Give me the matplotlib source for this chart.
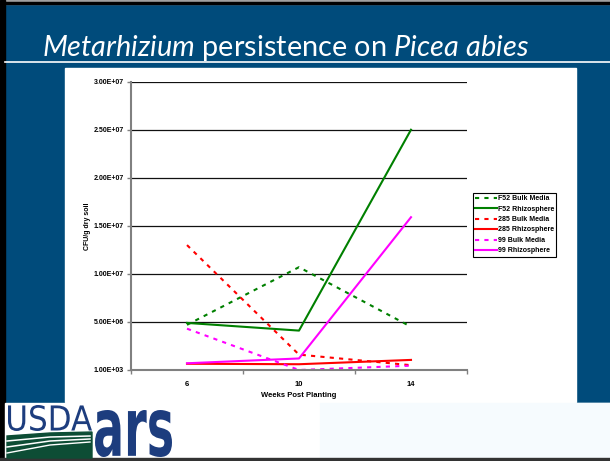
import matplotlib.pyplot as plt
from matplotlib.patches import Rectangle, Polygon, PathPatch
from matplotlib.textpath import TextPath
from matplotlib.font_manager import FontProperties
from matplotlib.transforms import Affine2D

weeks = ['6', '10', '14']
f52_bulk = [4.7e6, 1.07e7, 4.5e6]
f52_rhizo = [4.9e6, 4.1e6, 2.5e7]
s285_bulk = [1.3e7, 1.6e6, 5.0e5]
s285_rhizo = [6.5e5, 6.0e5, 1.05e6]
s99_bulk = [4.3e6, 1.0e3, 4.5e5]
s99_rhizo = [7.0e5, 1.2e6, 1.59e7]
ytick_vals = [0, 5e6, 1e7, 1.5e7, 2e7, 2.5e7, 3e7]
ytick_labels = ['1.00E+03', '5.00E+06', '1.00E+07', '1.50E+07', '2.00E+07', '2.50E+07', '3.00E+07']

blue = '#004b7b'
navy = '#1d3d7e'
plt.rcParams['mathtext.fontset'] = 'custom'
plt.rcParams['mathtext.it'] = 'Lato:italic'
plt.rcParams['mathtext.rm'] = 'Lato'

fig = plt.figure(figsize=(6.1, 4.61), dpi=100)
fig.patch.set_facecolor(blue)

# slide background in pixel coords
bg = fig.add_axes([0, 0, 1, 1])
bg.set_xlim(0, 610)
bg.set_ylim(461, 0)
bg.axis('off')
bg.add_patch(Rectangle((0, 0), 610, 4, color='#a0a0a0'))
bg.add_patch(Rectangle((0, 2), 610, 2.5, color='black'))
bg.add_patch(Rectangle((0, 0), 5, 461, color='black'))
bg.plot([5, 610], [62, 62], color='white', lw=1.2)
bg.add_patch(Rectangle((65, 68), 511, 334, color='white'))
bg.add_patch(Rectangle((5, 403), 605, 55, color='white'))
bg.add_patch(Rectangle((320, 403), 290, 55, color='#f6fbfe'))
bg.add_patch(Rectangle((0, 458), 610, 3, color='#333333'))


def logo_text(s, x0, x1, y0, y1, prop, color):
    # fit a text path into a pixel box
    tp = TextPath((0, 0), s, size=10, prop=prop)
    ext = tp.get_extents()
    sx = (x1 - x0) / ext.width
    sy = (y1 - y0) / ext.height
    tr = Affine2D().translate(-ext.x0, -ext.y0).scale(sx, -sy).translate(x0, y1)
    bg.add_patch(PathPatch(tr.transform_path(tp), color=color, lw=0))


logo_text('USDA', 8, 92, 405, 431, FontProperties(family='Liberation Sans Narrow'), navy)
logo_text('ars', 95, 172, 410, 457, FontProperties(family='DejaVu Sans', weight='bold'), navy)
bg.add_patch(Polygon([[7, 458], [7, 436], [50, 433], [92, 432], [92, 458]], color='#0d4d35'))
bg.plot([7, 50, 90], [441, 437, 436], color='white', lw=1.1)
bg.plot([7, 50, 90], [447, 441, 439], color='white', lw=1.1)
bg.plot([7, 50, 90], [453, 445, 442], color='white', lw=1.0)

fig.text(42 / 610, 1 - 56 / 461,
         r'$\it{Metarhizium}$ persistence on $\it{Picea}$ $\it{abies}$',
         color='white', fontsize=20.8, family='Lato', ha='left', va='baseline')

ax = fig.add_axes([131 / 610, 1 - 370 / 461, 336 / 610, 288.3 / 461])
ax.set_facecolor('white')
x = range(len(weeks))
dash = (0, (2, 2.5))
ax.plot(x, f52_bulk, color='#008000', lw=1.5, linestyle=dash, label='F52 Bulk Media')
ax.plot(x, f52_rhizo, color='#008000', lw=1.5, label='F52 Rhizosphere')
ax.plot(x, s285_bulk, color='#ff0000', lw=1.5, linestyle=dash, label='285 Bulk Media')
ax.plot(x, s285_rhizo, color='#ff0000', lw=1.5, label='285 Rhizosphere')
ax.plot(x, s99_bulk, color='#ff00ff', lw=1.5, linestyle=dash, label='99 Bulk Media')
ax.plot(x, s99_rhizo, color='#ff00ff', lw=1.5, label='99 Rhizosphere')

ax.set_xlim(-0.5, 2.5)
ax.set_ylim(0, 3e7)
ax.set_yticks(ytick_vals)
ax.set_yticklabels(ytick_labels, fontsize=5, fontweight='bold', family='Liberation Sans')
ax.set_xticks(list(x))
ax.set_xticklabels(weeks, fontsize=5.5, fontweight='bold', family='Liberation Sans')
ax.set_xticks([-0.5, 0.5, 1.5, 2.5], minor=True)
ax.tick_params(axis='x', which='major', length=0, pad=8)
ax.tick_params(axis='x', which='minor', length=3, color='#808080', width=1)
ax.tick_params(axis='y', length=3, color='#808080', width=1, pad=2)
ax.grid(axis='y', color='#111111', lw=0.9)
ax.set_axisbelow(True)
for s in ['top', 'right']:
    ax.spines[s].set_visible(False)
for s in ['left', 'bottom']:
    ax.spines[s].set_color('#808080')
    ax.spines[s].set_linewidth(1.5)
ax.set_ylabel('CFU/g dry soil', fontsize=5, fontweight='bold', family='Liberation Sans', labelpad=2)
ax.set_xlabel('Weeks Post Planting', fontsize=5.5, fontweight='bold', family='Liberation Sans', labelpad=3)

leg = ax.legend(loc='upper left', bbox_to_anchor=(473 / 610, 1 - 193 / 461),
                bbox_transform=fig.transFigure, fancybox=False, framealpha=1,
                edgecolor='black', handlelength=3.2, handletextpad=0.1,
                borderpad=0.3, labelspacing=0.5, borderaxespad=0,
                prop={'size': 5, 'weight': 'bold', 'family': 'Liberation Sans'})
leg.get_frame().set_linewidth(0.8)

fig.savefig('out.png', dpi=100, facecolor=fig.get_facecolor())
